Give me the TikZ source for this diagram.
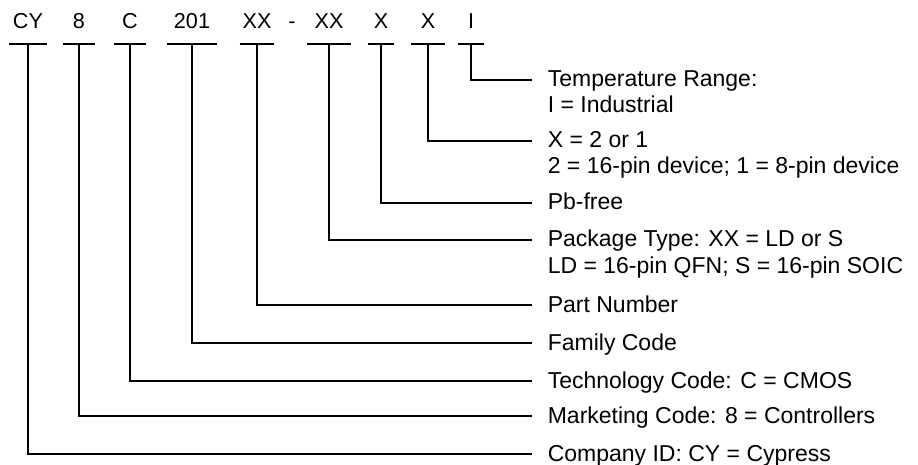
\documentclass[tikz,border=0pt]{standalone}
\usepackage{fontspec}
\setmainfont{Liberation Sans}
\usetikzlibrary{positioning}

% two lines, first line on the baseline
\newcommand{\twolines}[2]{\begin{tabular}[t]{@{}l@{}}#1\\#2\end{tabular}}

\begin{document}
\begin{tikzpicture}[x=1pt, y=-1pt, line width=1.6pt,
  code/.style = {font=\fontsize{21.6}{24}\selectfont, inner xsep=0pt, inner ysep=0pt, text depth=15pt, minimum width=#1, anchor=south},
  desc/.style = {font=\fontsize{23}{26}\selectfont, inner sep=0pt, anchor=base west}]
\useasboundingbox (0,0) rectangle (918,465);
% part number fields
\node[code=36pt] (cy) at (28,44) {CY};
\node[code=30pt] (mkt) at (79,44) {8};
\node[code=30pt] (tech) at (130,44) {C};
\node[code=48pt] (fam) at (192,44) {201};
\node[code=33pt] (part) at (257,44) {XX};
\node[font=\fontsize{21.6}{24}\selectfont, inner sep=0pt, anchor=base] (dash) at (292,29) {-};
\node[code=42pt] (pkg) at (329,44) {XX};
\node[code=25pt] (pb) at (381,44) {X};
\node[code=33pt] (pins) at (428,44) {X};
\node[code=24pt] (temp) at (471,44) {I};
\foreach \n in {cy,mkt,tech,fam,part,pkg,pb,pins,temp}
  \draw (\n.south west) -- (\n.south east);
% line ends
\coordinate (etemp) at (532,80);
\coordinate (epins) at (532,141);
\coordinate (epb) at (532,203);
\coordinate (epkg) at (532,240);
\coordinate (epart) at (532,305);
\coordinate (efam) at (532,343);
\coordinate (etech) at (532,381);
\coordinate (emkt) at (532,416);
\coordinate (ecy) at (532,454);
% descriptions
\node[desc] (dtemp) at ([xshift=15pt,yshift=-7pt]etemp) {\twolines{Temperature Range:}{I = Industrial}};
\node[desc] (dpins) at ([xshift=15pt,yshift=-7pt]epins) {\twolines{X = 2 or 1}{2 = 16-pin device; 1 = 8-pin device}};
\node[desc] (dpb) at ([xshift=15pt,yshift=-7pt]epb) {Pb-free};
\node[desc] (dpkg) at ([xshift=15pt,yshift=-7pt]epkg) {\twolines{Package Type: XX = LD or S}{LD = 16-pin QFN; S = 16-pin SOIC}};
\node[desc] (dpart) at ([xshift=15pt,yshift=-7pt]epart) {Part Number};
\node[desc] (dfam) at ([xshift=15pt,yshift=-7pt]efam) {Family Code};
\node[desc] (dtech) at ([xshift=15pt,yshift=-7pt]etech) {Technology Code: C = CMOS};
\node[desc] (dmkt) at ([xshift=15pt,yshift=-7pt]emkt) {Marketing Code: 8 = Controllers};
\node[desc] (dcy) at ([xshift=15pt,yshift=-7pt]ecy) {Company ID: CY = Cypress};
% connectors
\draw (temp.south) |- (etemp);
\draw (pins.south) |- (epins);
\draw (pb.south) |- (epb);
\draw (pkg.south) |- (epkg);
\draw (part.south) |- (epart);
\draw (fam.south) |- (efam);
\draw (tech.south) |- (etech);
\draw (mkt.south) |- (emkt);
\draw (cy.south) |- (ecy);
\end{tikzpicture}
\end{document}
